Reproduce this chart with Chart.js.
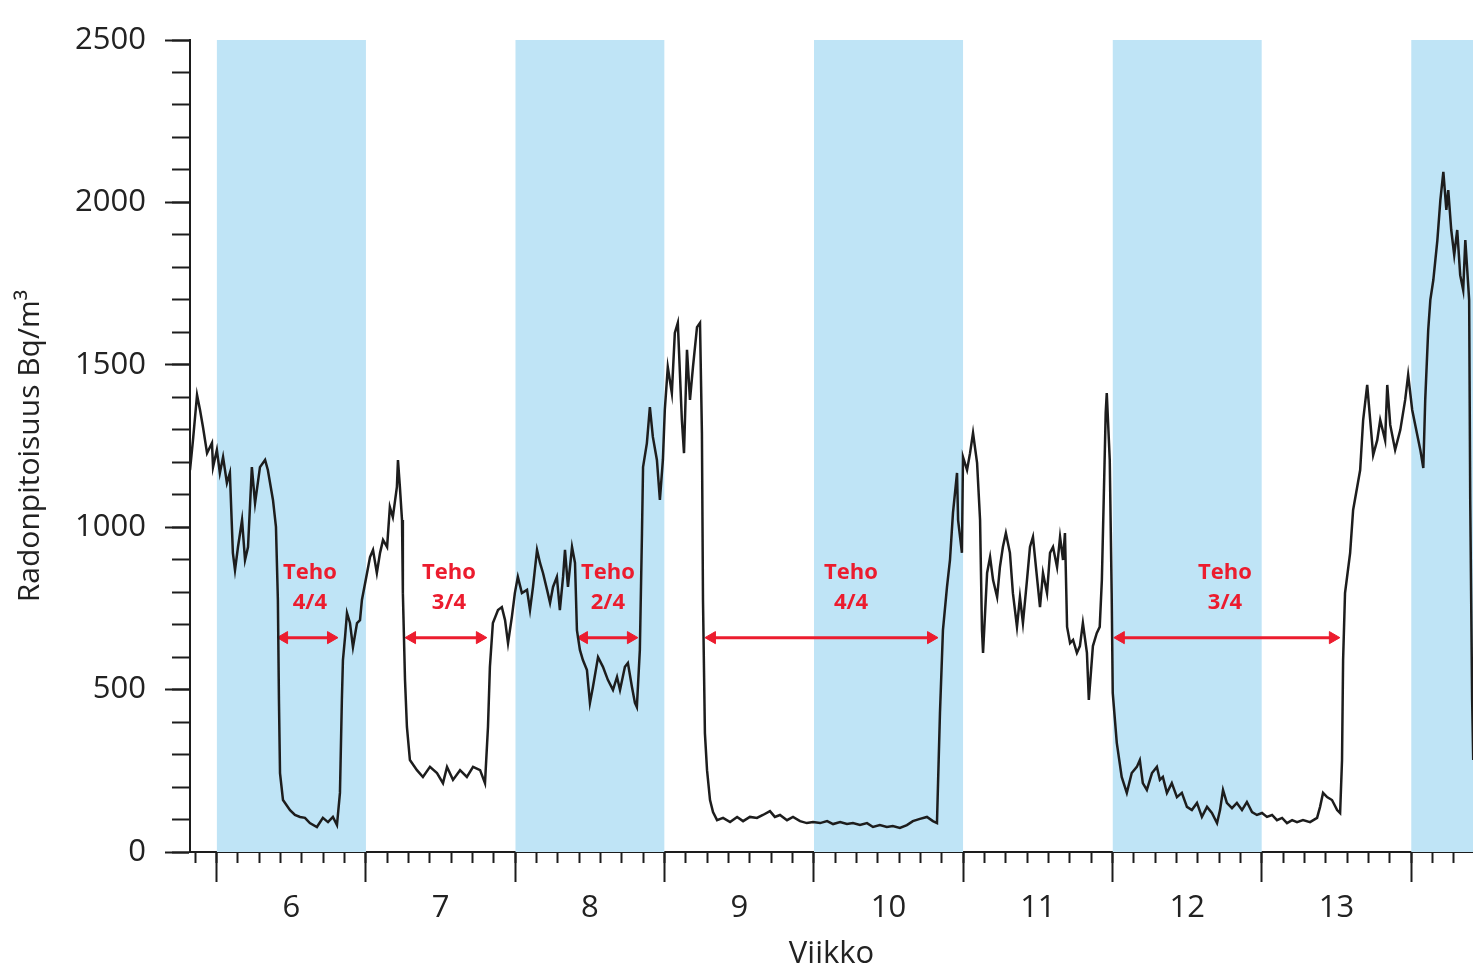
<!DOCTYPE html>
<html>
<head>
<meta charset="utf-8">
<script src="https://cdn.jsdelivr.net/npm/chart.js@4.4.1/dist/chart.umd.min.js"></script>
<style>
  html, body { margin: 0; padding: 0; background: #fff; }
</style>
</head>
<body>
<canvas id="radonChart" width="1473" height="970"></canvas>
<script>
// time in days from the start of week 6, radon in Bq/m3
const days = [
  -1.25, -1.11, -0.92, -0.78, -0.64, -0.45, -0.22, -0.17, 0.01, 0.15,
  0.30, 0.48, 0.62, 0.76, 0.86, 1.00, 1.19, 1.33, 1.47, 1.65,
  1.80, 2.03, 2.27, 2.40, 2.64, 2.78, 2.87, 2.92, 2.97, 3.11,
  3.44, 3.67, 3.91, 4.14, 4.37, 4.70, 4.98, 5.22, 5.45, 5.64,
  5.78, 5.87, 5.92, 6.02, 6.11, 6.25, 6.39, 6.58, 6.72, 6.81,
  7.05, 7.19, 7.33, 7.51, 7.66, 7.80, 7.99, 8.12, 8.26, 8.45,
  8.50, 8.59, 8.69, 8.73, 8.83, 8.92, 9.06, 9.39, 9.67, 10.00,
  10.33, 10.61, 10.80, 11.08, 11.41, 11.73, 12.02, 12.35, 12.58, 12.72,
  12.81, 12.95, 13.19, 13.37, 13.52, 13.66, 13.84, 13.98, 14.12, 14.31,
  14.55, 14.69, 14.83, 15.02, 15.16, 15.30, 15.49, 15.63, 15.77, 15.95,
  16.09, 16.24, 16.33, 16.47, 16.66, 16.80, 16.89, 17.03, 17.17, 17.36,
  17.50, 17.64, 17.88, 18.11, 18.34, 18.58, 18.77, 18.91, 19.14, 19.28,
  19.47, 19.61, 19.70, 19.84, 19.94, 19.99, 20.17, 20.31, 20.45, 20.64,
  20.78, 20.92, 21.01, 21.15, 21.34, 21.48, 21.62, 21.81, 21.91, 22.05,
  22.19, 22.33, 22.52, 22.66, 22.75, 22.80, 22.89, 22.99, 23.13, 23.27,
  23.46, 23.74, 24.07, 24.40, 24.68, 25.00, 25.33, 25.61, 25.94, 26.17,
  26.41, 26.74, 27.02, 27.35, 27.67, 27.96, 28.29, 28.62, 28.90, 29.23,
  29.55, 29.83, 30.16, 30.49, 30.77, 31.09, 31.42, 31.70, 32.03, 32.36,
  32.64, 32.97, 33.30, 33.58, 33.77, 33.82, 33.91, 34.05, 34.24, 34.38,
  34.52, 34.71, 34.76, 34.94, 34.99, 35.18, 35.32, 35.46, 35.65, 35.79,
  35.88, 35.93, 36.12, 36.26, 36.40, 36.59, 36.72, 36.86, 37.00, 37.19,
  37.33, 37.52, 37.66, 37.80, 37.99, 38.13, 38.27, 38.41, 38.60, 38.74,
  38.93, 39.07, 39.21, 39.40, 39.54, 39.68, 39.77, 39.87, 40.01, 40.15,
  40.33, 40.47, 40.61, 40.80, 40.89, 41.08, 41.26, 41.40, 41.50, 41.59,
  41.68, 41.73, 41.87, 41.96, 42.01, 42.20, 42.43, 42.67, 42.90, 43.14,
  43.28, 43.42, 43.61, 43.85, 44.08, 44.22, 44.36, 44.55, 44.78, 45.02,
  45.25, 45.49, 45.72, 45.96, 46.19, 46.43, 46.66, 46.90, 47.04, 47.18,
  47.36, 47.60, 47.83, 48.07, 48.30, 48.54, 48.77, 49.01, 49.24, 49.48,
  49.71, 49.95, 50.18, 50.42, 50.65, 50.93, 51.26, 51.59, 51.73, 51.87,
  52.06, 52.29, 52.53, 52.67, 52.76, 52.81, 52.90, 53.14, 53.28, 53.47,
  53.61, 53.75, 53.94, 54.08, 54.22, 54.41, 54.55, 54.78, 54.88, 55.02,
  55.25, 55.49, 55.72, 55.86, 56.05, 56.24, 56.43, 56.57, 56.66, 56.80,
  56.90, 57.04, 57.23, 57.37, 57.51, 57.65, 57.74, 57.88, 58.02, 58.16,
  58.30, 58.44, 58.54, 58.63, 58.72, 58.77, 58.86, 58.91
];
const radon = [
  1176, 1268, 1407, 1361, 1308, 1228, 1259, 1185, 1238, 1167,
  1216, 1136, 1167, 921, 868, 939, 1022, 899, 939, 1185,
  1074, 1185, 1207, 1176, 1084, 1001, 776, 468, 243, 160,
  129, 114, 108, 105, 89, 77, 105, 92, 108, 83,
  182, 468, 591, 662, 736, 705, 631, 705, 714, 776,
  859, 908, 930, 859, 921, 961, 939, 1062, 1031, 1124,
  1207, 1124, 1022, 797, 530, 385, 283, 252, 231, 262,
  243, 212, 262, 222, 252, 231, 262, 252, 212, 385,
  570, 705, 745, 754, 714, 643, 724, 797, 847, 797,
  807, 745, 816, 930, 890, 859, 807, 767, 816, 847,
  745, 847, 930, 816, 939, 890, 683, 622, 591, 560,
  459, 508, 600, 570, 530, 499, 539, 499, 570, 582,
  508, 459, 446, 622, 982, 1185, 1259, 1370, 1278, 1207,
  1084, 1207, 1361, 1493, 1413, 1598, 1629, 1330, 1228, 1546,
  1392, 1493, 1616, 1629, 1290, 776, 366, 252, 160, 123,
  98, 105, 92, 108, 95, 108, 105, 114, 126, 108,
  114, 98, 108, 95, 89, 92, 89, 95, 86, 92,
  86, 89, 83, 89, 77, 83, 77, 80, 74, 83,
  95, 102, 108, 95, 89, 212, 428, 683, 816, 899,
  1044, 1167, 1022, 921, 1216, 1176, 1228, 1290, 1198, 1022,
  683, 613, 859, 908, 837, 785, 877, 939, 982, 921,
  797, 693, 785, 705, 837, 939, 970, 877, 754, 859,
  797, 921, 939, 877, 970, 899, 982, 693, 643, 653,
  613, 634, 705, 613, 468, 634, 674, 693, 837, 1093,
  1352, 1413, 1207, 797, 490, 336, 231, 182, 243, 262,
  283, 212, 191, 243, 262, 222, 231, 182, 212, 169,
  182, 139, 129, 151, 108, 139, 120, 89, 129, 191,
  151, 135, 151, 129, 154, 123, 114, 120, 108, 114,
  98, 105, 89, 98, 92, 98, 92, 105, 139, 182,
  169, 160, 129, 120, 283, 591, 797, 921, 1053, 1124,
  1176, 1330, 1438, 1330, 1222, 1268, 1330, 1268, 1438, 1315,
  1238, 1299, 1392, 1469, 1361, 1299, 1238, 1182, 1392, 1607,
  1700, 1761, 1884, 2007, 2094, 1977, 2038, 1915, 1838, 1915,
  1776, 1730, 1884, 1792, 1699, 1084, 468, 283
];

const weekStarts = [0, 7, 14, 21, 28, 35, 42, 49, 56];
const weekLabels = ['6', '7', '8', '9', '10', '11', '12', '13', ''];
const bandStarts = [0, 14, 28, 42, 56];
const bandEnds = [7, 21, 35, 49, 63];
const arrowFrom = [2.83, 8.83, 16.89, 22.89, 42.06];
const arrowTo = [5.69, 12.67, 19.75, 33.82, 52.66];
const arrowLevel = 660;
const tehoText = ['4/4', '3/4', '2/4', '4/4', '3/4'];
const tehoX = [4.37, 10.89, 18.34, 29.74, 47.27];
const tehoLevel = 859;

const xMin = -1.25, xMax = 58.9, yMax = 2500;
const RED = '#ec1c2e';
const BLUE = '#bfe4f6';
const INK = '#1d1d1d';
const FONT = '"Open Sans", "Noto Sans", sans-serif';
const HEAD = 0.33; // arrow head reach in days

const datasets = [];
datasets.push({
    data: days.map((d, i) => ({x: d, y: radon[i]})),
    borderColor: INK,
    borderWidth: 2.5,
    pointRadius: 0,
    tension: 0
});
arrowFrom.forEach((a, i) => {
    datasets.push({
        data: [{x: a + HEAD, y: arrowLevel}, {x: arrowTo[i] - HEAD, y: arrowLevel}],
        borderColor: RED,
        backgroundColor: RED,
        borderWidth: 3,
        pointStyle: 'triangle',
        pointRadius: 7,
        pointRotation: [-90, 90],
        pointBorderWidth: 1
    });
});
bandStarts.forEach((s, i) => {
    datasets.push({
        data: [{x: s, y: yMax}, {x: bandEnds[i], y: yMax}],
        borderWidth: 0,
        pointRadius: 0,
        backgroundColor: BLUE,
        fill: 'origin',
        order: 5
    });
});

const tehoPlugin = {
    id: 'teho',
    afterDatasetsDraw(chart) {
        const {ctx, scales: {x, y}} = chart;
        ctx.save();
        ctx.fillStyle = RED;
        ctx.font = 'bold 22px ' + FONT;
        ctx.textAlign = 'center';
        ctx.textBaseline = 'middle';
        tehoText.forEach((t, i) => {
            const px = x.getPixelForValue(tehoX[i]);
            const py = y.getPixelForValue(tehoLevel);
            ctx.fillText('Teho', px, py);
            ctx.fillText(t, px, py + 30);
        });
        ctx.restore();
    }
};

new Chart(document.getElementById('radonChart'), {
    type: 'line',
    data: {datasets: datasets},
    plugins: [tehoPlugin],
    options: {
        responsive: false,
        animation: false,
        layout: {autoPadding: false, padding: {top: 40, right: 0, left: 0, bottom: 0}},
        plugins: {legend: {display: false}, tooltip: {enabled: false}},
        scales: {
            x: { // week boundaries + week numbers
                type: 'linear',
                min: xMin,
                max: xMax,
                z: 1,
                afterBuildTicks: s => { s.ticks = weekStarts.map(v => ({value: v})); },
                afterFit: s => { s.height = 118; },
                ticks: {
                    autoSkip: false,
                    maxRotation: 0,
                    labelOffset: 74.66,
                    padding: 8,
                    color: '#222',
                    font: {family: FONT, size: 31},
                    callback: (v, i) => weekLabels[i]
                },
                grid: {drawOnChartArea: false, tickLength: 30, tickWidth: 2, tickColor: INK},
                border: {color: INK, width: 2},
                title: {display: true, text: 'Viikko', color: '#222', font: {family: FONT, size: 31, lineHeight: 1}, padding: {top: 0, bottom: 0}}
            },
            xDay: { // one tick per day
                type: 'linear',
                position: {y: 0},
                min: xMin,
                max: xMax,
                z: 1,
                afterBuildTicks: s => {
                    const t = [];
                    for (let d = Math.ceil(xMin); d <= xMax; d++) t.push({value: d});
                    s.ticks = t;
                },
                ticks: {display: false},
                grid: {drawOnChartArea: false, tickLength: 10, tickWidth: 2, tickColor: INK},
                border: {color: INK, width: 2}
            },
            y: {
                min: 0,
                max: yMax,
                z: 1,
                afterFit: s => { s.width = 190; },
                ticks: {stepSize: 500, padding: 19, color: '#222', font: {family: FONT, size: 31}, callback: v => String(v)},
                grid: {drawOnChartArea: false, tickLength: 25, tickWidth: 2, tickColor: INK},
                border: {color: INK, width: 2},
                title: {display: true, text: 'Radonpitoisuus Bq/m³', color: '#222', font: {family: FONT, size: 30}, padding: {top: 12, bottom: 0}}
            },
            yMinor: {
                position: {x: xMin},
                min: 0,
                max: yMax,
                z: 1,
                ticks: {display: false, stepSize: 100},
                grid: {drawOnChartArea: false, tickLength: 17, tickWidth: 2, tickColor: INK},
                border: {color: INK, width: 2}
            }
        }
    }
});
</script>
</body>
</html>
